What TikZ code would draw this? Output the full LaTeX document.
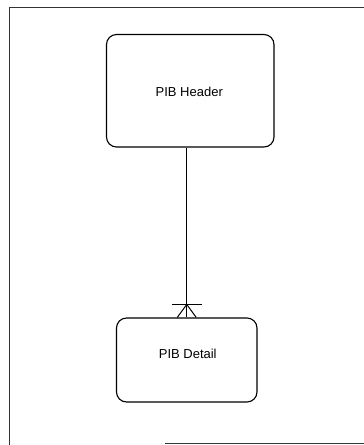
\documentclass[tikz,border=0pt]{standalone}
\usepackage{fontspec}
\setmainfont{Liberation Sans}
\usetikzlibrary{calc}
\begin{document}
\begin{tikzpicture}[x=1pt,y=-1pt,
  entity/.style={draw, line width=1.1pt, rounded corners=10pt, inner sep=0pt},
  entityname/.style={font=\fontsize{13pt}{15pt}\selectfont, inner sep=0pt},
  rel/.style={line width=1pt},
  frameline/.style={line width=0.7pt, draw=black!80}]
  \useasboundingbox (0,0) rectangle (364,445);
  % page frame
  \coordinate (ftr) at (364,7.5);
  \coordinate (ftl) at (9.5,7.5);
  \coordinate (fbl) at (9.5,445);
  \coordinate (fbs) at (165,443.5);
  \coordinate (fbe) at (364,443.5);
  \draw[frameline] (ftr) -- (ftl) -- (fbl);
  \draw[frameline] (fbs) -- (fbe);
  % entities
  \node[entity, minimum width=167.5pt, minimum height=112.5pt] (header) at (190.25,90.75) {};
  \node[entityname] (headername) at ($(header.center)+(-1,1)$) {PIB Header};
  \node[entity, minimum width=140.5pt, minimum height=84pt] (detail) at (186.75,360) {};
  \node[entityname] (detailname) at ($(detail.center)+(1,-6.5)$) {PIB Detail};
  % one-to-many relationship
  \coordinate (fork) at ($(detail.north)+(0,-13)$);
  \draw[rel] (header.south -| detail.north) -- (detail.north);
  \draw[rel] ([xshift=-15pt]fork) -- ([xshift=15pt]fork);
  \draw[rel] (fork) -- ([xshift=-9.5pt]detail.north);
  \draw[rel] (fork) -- ([xshift=9.5pt]detail.north);
\end{tikzpicture}
\end{document}
